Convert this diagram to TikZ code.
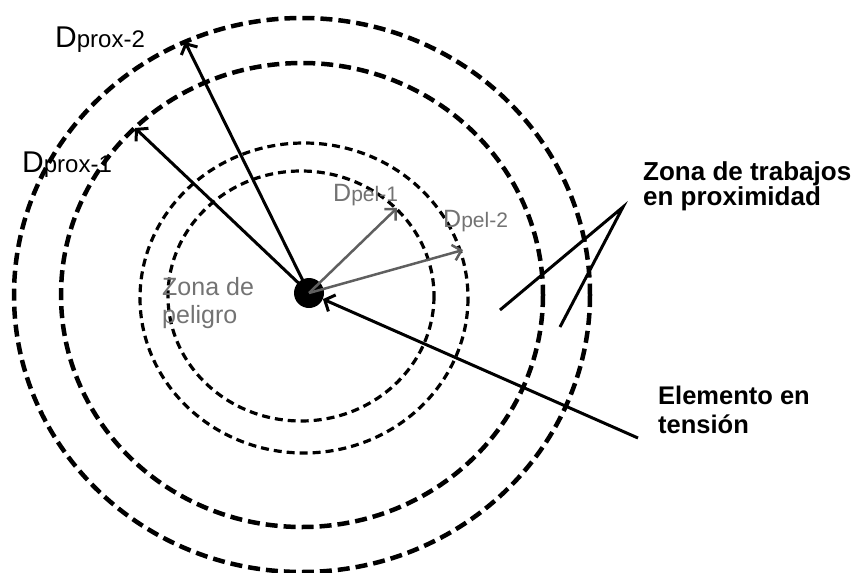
\documentclass[tikz,border=0pt]{standalone}
\usepackage{fontspec}
\setmainfont{Liberation Sans}
\usetikzlibrary{arrows.meta}
\definecolor{pelgray}{RGB}{95,95,95}
\definecolor{txtgray}{RGB}{115,115,115}
\tikzset{
  bigdash/.style={line width=4.5pt, dash pattern=on 12pt off 6pt},
  smalldash/.style={line width=3.2pt, dash pattern=on 8pt off 5pt},
  proxarrow/.style={line width=3pt, -{Straight Barb[length=8pt,width=18pt,line width=3pt]}},
  pelarrow/.style={line width=2.5pt, draw=pelgray, -{Straight Barb[length=8pt,width=16pt,line width=2.5pt]}},
  plainline/.style={line width=3pt},
  lbl/.style={anchor=base west, inner sep=0pt, align=left},
}
\begin{document}
\begin{tikzpicture}[x=1pt,y=-1pt]
\useasboundingbox (0,0) rectangle (855,573);
% ellipses
\draw[bigdash] (302,295) ellipse [x radius=288, y radius=277];
\draw[bigdash] (302,295) ellipse [x radius=241, y radius=232];
\draw[smalldash] (304,298) ellipse [x radius=164, y radius=155];
\draw[smalldash] (301,296) ellipse [x radius=133, y radius=125];
% dot
\node[circle, fill=black, minimum size=30pt, inner sep=0pt] (dot) at (309,293) {};
\coordinate (c) at (309,293);
% arrow tips
\coordinate (p2) at (185,42);
\coordinate (p1) at (135,128);
\coordinate (e1) at (397,208);
\coordinate (e2) at (463,250);
\coordinate (el) at (638,438);
\draw[proxarrow] (c) -- (p2);
\draw[proxarrow] (c) -- (p1);
\draw[pelarrow] (c) -- (e1);
\draw[pelarrow] (c) -- (e2);
\draw[proxarrow] (el) -- (dot);
% zona de trabajos V
\coordinate (va) at (623,207);
\coordinate (vb) at (500,310);
\coordinate (vc) at (560,327);
\draw[plainline] (vb) -- (va) -- (vc);
% labels
\node[lbl] (lp2) at (55,47) {{\fontsize{30}{30}\selectfont D}{\fontsize{24}{24}\selectfont prox-2}};
\node[lbl] (lp1) at (22,172) {{\fontsize{30}{30}\selectfont D}{\fontsize{24}{24}\selectfont prox-1}};
\node[lbl, text=txtgray] (le1) at (333,201) {{\fontsize{25}{25}\selectfont D}{\fontsize{21}{21}\selectfont pel-1}};
\node[lbl, text=txtgray] (le2) at (443,227) {{\fontsize{25}{25}\selectfont D}{\fontsize{21}{21}\selectfont pel-2}};
\node[lbl, text=txtgray, font=\fontsize{25}{28}\selectfont] (lzp) at (162,323) {Zona de\\peligro};
\node[lbl, font=\bfseries\fontsize{26}{25}\selectfont] (lzt) at (643,205) {Zona de trabajos\\en proximidad};
\node[lbl, font=\bfseries\fontsize{25.5}{29}\selectfont] (let) at (658,433) {Elemento en\\tensión};
\end{tikzpicture}
\end{document}
